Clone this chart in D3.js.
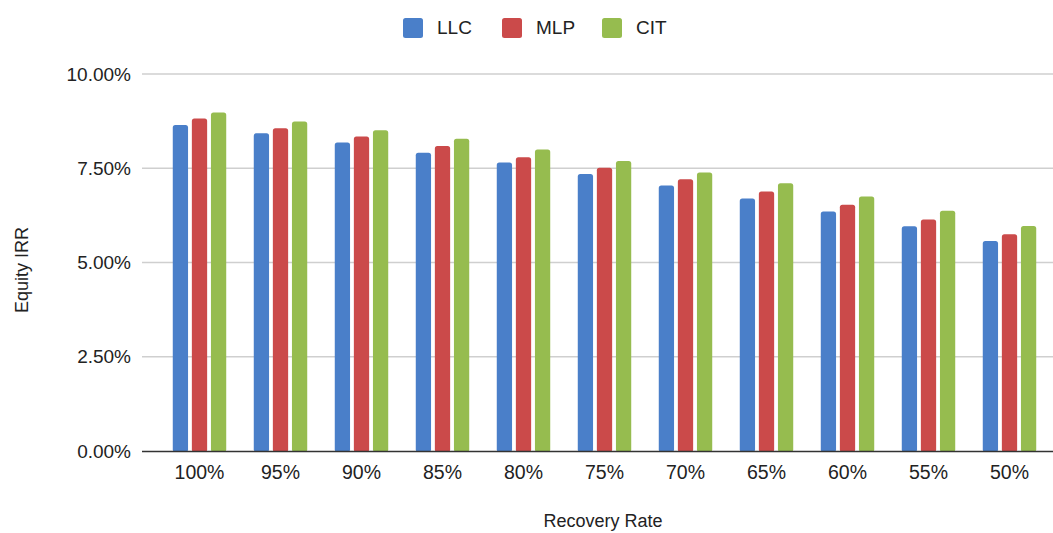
<!DOCTYPE html>
<html><head><meta charset="utf-8">
<script src="https://cdn.jsdelivr.net/npm/d3@7/dist/d3.min.js"></script>
<style>body{margin:0;background:#fff}svg{display:block}text{font-family:"Liberation Sans",Arial,sans-serif;fill:#222}</style>
</head><body><svg id="c" width="1053" height="533"></svg>
<script>
const categories = ["100%","95%","90%","85%","80%","75%","70%","65%","60%","55%","50%"];
const seriesNames = ["LLC","MLP","CIT"];
const LLC = [8.65,8.43,8.18,7.91,7.65,7.35,7.04,6.70,6.35,5.96,5.57];
const MLP = [8.82,8.56,8.34,8.09,7.79,7.51,7.21,6.88,6.53,6.14,5.75];
const CIT = [8.98,8.74,8.51,8.28,8.00,7.69,7.39,7.10,6.75,6.37,5.97];
const yTicks = [0,2.5,5,7.5,10];
const colors = ["#4a7fc9","#cb4a4a","#96bc4f"];
const values = [LLC, MLP, CIT];

const svg = d3.select("#c");
const y = d3.scaleLinear().domain([0,10]).range([451,74]);
const x = d3.scaleBand().domain(categories).range([159,1050]).paddingInner(0.34).paddingOuter(0.17);
const xs = d3.scaleBand().domain(seriesNames).range([0,x.bandwidth()]).paddingInner(0.2);

// gridlines
svg.append("g").selectAll("line").data(yTicks.filter(d=>d>0)).join("line")
  .attr("x1",142).attr("x2",1053).attr("y1",d=>y(d)).attr("y2",d=>y(d))
  .attr("stroke","#cfcfcf").attr("stroke-width",1.6);

// y axis labels
const yAxis = d3.axisLeft(y).tickValues(yTicks).tickFormat(d=>d.toFixed(2)+"%").tickSize(0).tickPadding(0);
const ya = svg.append("g").attr("transform","translate(131,0)").call(yAxis);
ya.select(".domain").remove();
ya.selectAll("text").attr("font-size",19).attr("fill","#222").style("font-family","'Liberation Sans',Arial,sans-serif");

// bars
const g = svg.append("g");
seriesNames.forEach((s,si)=>{
  g.append("g").selectAll("rect").data(values[si]).join("rect")
    .attr("x",(d,i)=>x(categories[i])+xs(s))
    .attr("width",xs.bandwidth())
    .attr("y",d=>y(d))
    .attr("height",d=>y(0)-y(d)+1)
    .attr("rx",2.5)
    .attr("fill",colors[si]);
});

// x axis
const xAxis = d3.axisBottom(x).tickSize(0).tickPadding(0);
const xa = svg.append("g").attr("transform","translate(0,451)").call(xAxis);
xa.select(".domain").remove();
xa.selectAll("text").attr("font-size",19.5).attr("dy",0).attr("y",28).attr("fill","#222").style("font-family","'Liberation Sans',Arial,sans-serif");
svg.append("line").attr("x1",142).attr("x2",1053).attr("y1",451.5).attr("y2",451.5).attr("stroke","#333").attr("stroke-width",1.6);

// axis titles
svg.append("text").attr("x",603).attr("y",527).attr("text-anchor","middle").attr("font-size",18).text("Recovery Rate");
svg.append("text").attr("transform","translate(28,270) rotate(-90)").attr("text-anchor","middle").attr("font-size",18).text("Equity IRR");

// legend
const legX = [403,502,602];
const lg = svg.append("g");
seriesNames.forEach((s,i)=>{
  lg.append("rect").attr("x",legX[i]).attr("y",18).attr("width",20).attr("height",20).attr("rx",2.5).attr("fill",colors[i]);
  lg.append("text").attr("x",legX[i]+34).attr("y",34).attr("font-size",19).text(s);
});
</script></body></html>
